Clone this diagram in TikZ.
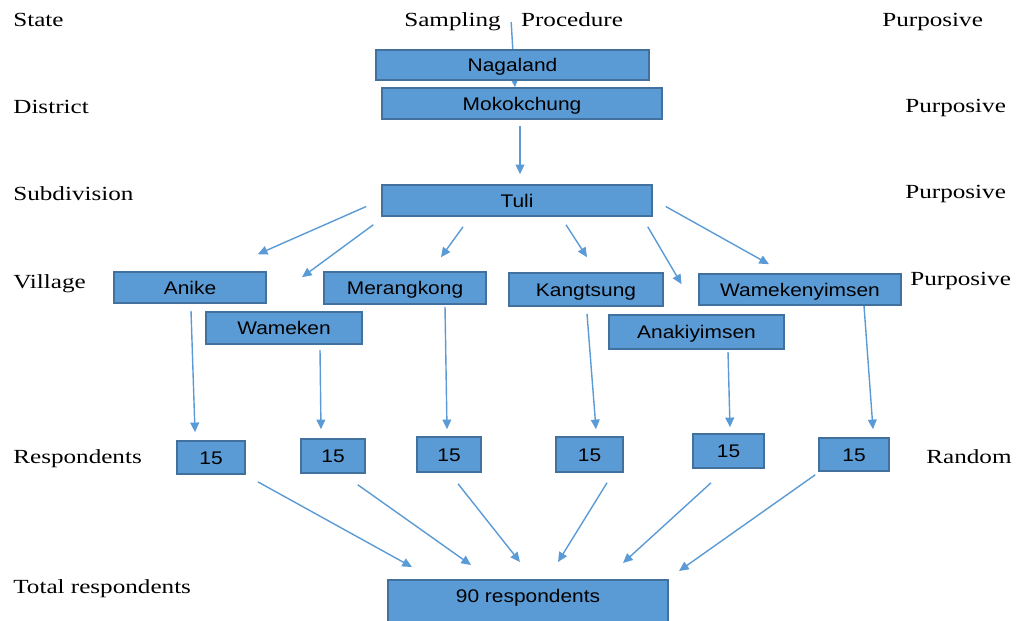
\documentclass[tikz,border=0pt]{standalone}
\usepackage{fontspec}
\setmainfont{Liberation Serif}[FakeStretch=1.255]
\newfontfamily\boxfont{Liberation Sans}[FakeStretch=1.145]
\usetikzlibrary{arrows.meta,backgrounds}
\definecolor{boxfill}{HTML}{5B9BD5}
\definecolor{boxedge}{HTML}{41719C}
\definecolor{flowblue}{HTML}{5B9BD5}

\begin{document}
\begin{tikzpicture} [x=0.02cm,y=-0.02cm,>={Triangle[length=5.5pt,width=5pt]},
			area/.style={draw=boxedge,line width=0.9pt,fill=boxfill,inner sep=0pt,
				font=\boxfont\fontsize{10.4}{12}\selectfont,text height=7.45pt,text depth=0pt},
			flow/.style={->,color=flowblue,line width=0.8pt},
			rowname/.style={anchor=base west,inner sep=0pt,font=\fontsize{11.4}{13}\selectfont},
			method/.style={rowname}]

		\useasboundingbox (0,0) rectangle (1016,620);

		% level names and sampling methods
		\node [rowname] (state) at (13,26) {State};
		\node [rowname] (district) at (13,113) {District};
		\node [rowname] (subdivision) at (13,200) {Subdivision};
		\node [rowname] (village) at (13,288) {Village};
		\node [rowname] (respondents) at (13,463) {Respondents};
		\node [rowname] (totalresp) at (13,593) {Total respondents};
		\node [rowname] (sampling) at (404,26) {Sampling\hspace{11.6pt}Procedure};

		\node [method] (m1) at (882,26) {Purposive};
		\node [method] (m2) at (905,112) {Purposive};
		\node [method] (m3) at (905,198) {Purposive};
		\node [method] (m4) at (910,285) {Purposive};
		\node [method] (m5) at (926,463) {Random};

		% boxes
		\node [area, minimum width=5.46cm, minimum height=0.60cm] (nagaland) at (512.5,65) {Nagaland};
		\node [area, minimum width=5.60cm, minimum height=0.62cm] (mokokchung) at (522,103.5) {Mokokchung};
		\node [area, minimum width=5.40cm, minimum height=0.62cm] (tuli) at (517,200.5) {Tuli};

		\node [area, minimum width=3.04cm, minimum height=0.62cm] (anike) at (190,287.5) {Anike};
		\node [area, minimum width=3.12cm, minimum height=0.64cm] (wameken) at (284,328) {Wameken};
		\node [area, minimum width=3.24cm, minimum height=0.64cm] (merangkong) at (405,288) {Merangkong};
		\node [area, minimum width=3.08cm, minimum height=0.66cm] (kangtsung) at (586,289.5) {Kangtsung};
		\node [area, minimum width=3.50cm, minimum height=0.68cm] (anakiyimsen) at (696.5,332) {Anakiyimsen};
		\node [area, minimum width=4.04cm, minimum height=0.62cm] (wamekenyimsen) at (800,289.5) {Wamekenyimsen};

		\node [area, minimum width=1.36cm, minimum height=0.66cm] (r1) at (211,457.5) {15};
		\node [area, minimum width=1.28cm, minimum height=0.68cm] (r2) at (333,456) {15};
		\node [area, minimum width=1.28cm, minimum height=0.70cm] (r3) at (449,454.5) {15};
		\node [area, minimum width=1.34cm, minimum height=0.70cm] (r4) at (589.5,454.5) {15};
		\node [area, minimum width=1.42cm, minimum height=0.68cm] (r5) at (728.5,451) {15};
		\node [area, minimum width=1.40cm, minimum height=0.66cm] (r6) at (854,454.5) {15};

		\node [area, anchor=north, minimum width=5.60cm, text height=12.9pt, text depth=16pt] (total) at (528,579) {90 respondents};

		% arrows
		\begin{scope}[on background layer]
			\draw [flow] ([shift={(-2.5,-4)}]sampling.base) -- ([shift={(-7,0)}]mokokchung.north);
		\end{scope}
		\draw [flow] ([shift={(-2,6)}]mokokchung.south) -- ([shift={(3,-10)}]tuli.north);

		\draw [flow] ([shift={(-15,6)}]tuli.west) -- ([shift={(-9,-17)}]anike.north east);
		\draw [flow] ([shift={(-8,8)}]tuli.south west) -- ([shift={(18,-34)}]wameken.north);
		\draw [flow] ([shift={(-54,10)}]tuli.south) -- ([shift={(36,-14)}]merangkong.north);
		\draw [flow] ([shift={(49,8)}]tuli.south) -- ([shift={(1,-15)}]kangtsung.north);
		\draw [flow] ([shift={(-5,10)}]tuli.south east) -- ([shift={(-15,-30)}]anakiyimsen.north);
		\draw [flow] ([shift={(13,6)}]tuli.east) -- ([shift={(-31,-9)}]wamekenyimsen.north);

		\draw [flow] ([shift={(1,7)}]anike.south) -- ([shift={(-16,-8)}]r1.north);
		\draw [flow] ([shift={(36,5)}]wameken.south) -- ([shift={(-12,-9)}]r2.north);
		\draw [flow] ([shift={(40,2)}]merangkong.south) -- ([shift={(-2,-7)}]r3.north);
		\draw [flow] ([shift={(1,7)}]kangtsung.south) -- ([shift={(6.5,-7)}]r4.north);
		\draw [flow] ([shift={(31.5,2)}]anakiyimsen.south) -- ([shift={(1.5,-6)}]r5.north);
		\draw [flow] ([shift={(64,0)}]wamekenyimsen.south) -- ([shift={(19,-8)}]r6.north);

		\draw [flow] ([shift={(12,7)}]r1.south east) -- ([shift={(-116,-12)}]total.north);
		\draw [flow] ([shift={(-8,11)}]r2.south east) -- ([shift={(-57,-14)}]total.north);
		\draw [flow] ([shift={(9,11)}]r3.south) -- ([shift={(-8,-17)}]total.north);
		\draw [flow] ([shift={(17.5,10)}]r4.south) -- ([shift={(30,-17)}]total.north);
		\draw [flow] ([shift={(-17.5,14)}]r5.south) -- ([shift={(95,-16)}]total.north);
		\draw [flow] ([shift={(-3,3)}]r6.south west) -- ([shift={(151,-8)}]total.north);

		\end{tikzpicture}
\end{document}
